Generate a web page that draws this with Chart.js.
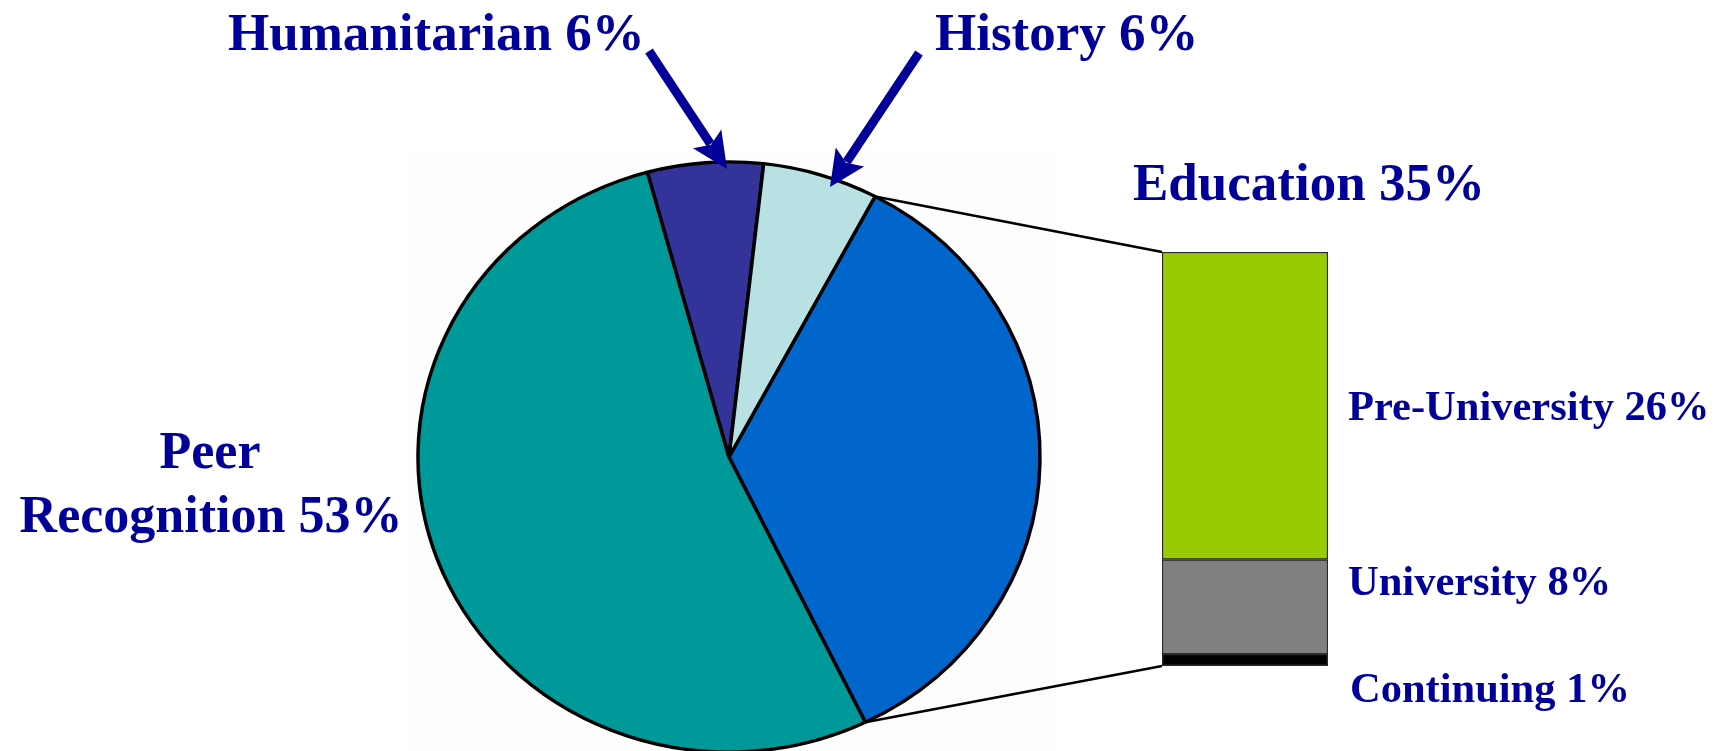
<!DOCTYPE html>
<html>
<head>
<meta charset="utf-8">
<script src="https://cdn.jsdelivr.net/npm/chart.js@4.4.1/dist/chart.umd.min.js"></script>
<style>
  html, body { margin: 0; padding: 0; background: #fff; }
  #lienzo { position: relative; width: 1725px; height: 751px; overflow: hidden; }
  #lienzo canvas { position: absolute; left: 0; top: 0; }
</style>
</head>
<body>
<div id="lienzo">
  <canvas id="pastel" width="1725" height="751"></canvas>
  <canvas id="barra" width="1725" height="751"></canvas>
</div>
<script>
// Datos del pastel (orden de dibujo, en sentido horario desde Education)
const categorias = ["Education", "Peer Recognition", "Humanitarian", "History"];
const porcentajes = [35, 53, 6, 6];
const coloresPastel = ["#0066CC", "#009999", "#333399", "#B9E0E3"];

// Desglose de Education (de abajo hacia arriba en la barra)
const subcategorias = ["Continuing", "University", "Pre-University"];
const subPorcentajes = [1, 8, 26];
const coloresBarra = ["#000000", "#808080", "#99CC00"];

const COLOR_TEXTO = "#000099";
const FUENTE = '"Liberation Serif", "Times New Roman", serif';
const ESCALA_Y = 0.949; // el pastel original es algo achatado

function etiqueta(nombre, valor) {
  return nombre + " " + valor + "%";
}

// Barra apilada de Education
const barraChart = new Chart(document.getElementById("barra"), {
  type: "bar",
  data: {
    labels: ["Education"],
    datasets: subcategorias.map((nombre, i) => ({
      label: nombre,
      data: [subPorcentajes[i]],
      backgroundColor: coloresBarra[i],
      borderColor: "#2a2a2a",
      borderWidth: 1.5,
      borderSkipped: false,
      barPercentage: 1,
      categoryPercentage: 1,
    })),
  },
  options: {
    responsive: false,
    devicePixelRatio: 1,
    animation: false,
    events: [],
    layout: { padding: { left: 1162, right: 397, top: 252, bottom: 85 } },
    plugins: { legend: { display: false }, tooltip: { enabled: false } },
    scales: {
      x: { display: false, stacked: true },
      y: { display: false, stacked: true, min: 0, max: subPorcentajes.reduce((a, b) => a + b, 0) },
    },
  },
});

// Achata el pastel en vertical
const pluginElipse = {
  id: "elipse",
  beforeDatasetsDraw(chart) {
    const arco = chart.getDatasetMeta(0).data[0];
    const ctx = chart.ctx;
    ctx.save();
    ctx.translate(arco.x, arco.y);
    ctx.scale(1, ESCALA_Y);
    ctx.translate(-arco.x, -arco.y);
  },
  afterDatasetsDraw(chart) {
    chart.ctx.restore();
  },
};

function dibujarFlecha(ctx, x0, y0, x1, y1) {
  const ang = Math.atan2(y1 - y0, x1 - x0);
  const largoPunta = 36;
  const anchoPunta = 17;
  const bx = x1 - Math.cos(ang) * largoPunta;
  const by = y1 - Math.sin(ang) * largoPunta;
  ctx.save();
  ctx.strokeStyle = COLOR_TEXTO;
  ctx.fillStyle = COLOR_TEXTO;
  ctx.lineWidth = 9;
  ctx.beginPath();
  ctx.moveTo(x0, y0);
  ctx.lineTo(x1 - Math.cos(ang) * (largoPunta - 6), y1 - Math.sin(ang) * (largoPunta - 6));
  ctx.stroke();
  ctx.beginPath();
  ctx.moveTo(x1, y1);
  ctx.lineTo(bx + Math.sin(ang) * anchoPunta, by - Math.cos(ang) * anchoPunta);
  ctx.lineTo(x1 - Math.cos(ang) * (largoPunta - 7), y1 - Math.sin(ang) * (largoPunta - 7));
  ctx.lineTo(bx - Math.sin(ang) * anchoPunta, by + Math.cos(ang) * anchoPunta);
  ctx.closePath();
  ctx.fill();
  ctx.restore();
}

function texto(ctx, t, x, y, tam, alinear) {
  ctx.font = "bold " + tam + "px " + FUENTE;
  ctx.fillStyle = COLOR_TEXTO;
  ctx.textAlign = alinear || "left";
  ctx.textBaseline = "alphabetic";
  ctx.fillText(t, x, y);
}

// Fondo, conectores, flechas y etiquetas
const pluginAnotaciones = {
  id: "anotaciones",
  beforeDraw(chart) {
    const ctx = chart.ctx;
    ctx.save();
    ctx.fillStyle = "#fdfdfd";
    ctx.fillRect(407, 150, 651, 601);
    ctx.restore();
  },
  afterDraw(chart) {
    const ctx = chart.ctx;
    const edu = chart.getDatasetMeta(0).data[0];
    const r = edu.outerRadius;
    const pIni = { x: edu.x + Math.cos(edu.startAngle) * r, y: edu.y + Math.sin(edu.startAngle) * r * ESCALA_Y };
    const pFin = { x: edu.x + Math.cos(edu.endAngle) * r, y: edu.y + Math.sin(edu.endAngle) * r * ESCALA_Y };

    const arriba = barraChart.getDatasetMeta(subcategorias.length - 1).data[0];
    const abajo = barraChart.getDatasetMeta(0).data[0];
    const izq = arriba.x - arriba.width / 2;

    ctx.save();
    ctx.strokeStyle = "#000";
    ctx.lineWidth = 2.5;
    ctx.beginPath();
    ctx.moveTo(pIni.x, pIni.y);
    ctx.lineTo(izq, arriba.y);
    ctx.moveTo(pFin.x, pFin.y);
    ctx.lineTo(izq, abajo.base);
    ctx.stroke();
    ctx.restore();

    // Flechas hacia los sectores pequeños
    dibujarFlecha(ctx, 649, 51, 727, 169);
    dibujarFlecha(ctx, 919, 53, 830, 187);

    // Etiquetas del pastel
    texto(ctx, etiqueta(categorias[2], porcentajes[2]), 228, 50, 53);
    texto(ctx, etiqueta(categorias[3], porcentajes[3]), 935, 50, 53);
    texto(ctx, etiqueta(categorias[0], porcentajes[0]), 1133, 200, 53);
    const partes = categorias[1].split(" ");
    texto(ctx, partes[0], 210, 468, 52, "center");
    texto(ctx, etiqueta(partes[1], porcentajes[1]), 211, 532, 52, "center");

    // Etiquetas de la barra
    const baseTexto = [702, 595, 420];
    subcategorias.forEach((nombre, i) => {
      texto(ctx, etiqueta(nombre, subPorcentajes[i]), i === 0 ? 1350 : 1348, baseTexto[i], 42.5);
    });
  },
};

new Chart(document.getElementById("pastel"), {
  type: "pie",
  data: {
    labels: categorias,
    datasets: [
      {
        data: porcentajes,
        backgroundColor: coloresPastel,
        borderColor: "#000000",
        borderWidth: 3.5,
        clip: false,
      },
    ],
  },
  options: {
    responsive: false,
    devicePixelRatio: 1,
    animation: false,
    events: [],
    rotation: 28,
    radius: 311,
    layout: { padding: { left: 418, right: 685, top: 167, bottom: 4 } },
    plugins: { legend: { display: false }, tooltip: { enabled: false } },
  },
  plugins: [pluginElipse, pluginAnotaciones],
});
</script>
</body>
</html>
